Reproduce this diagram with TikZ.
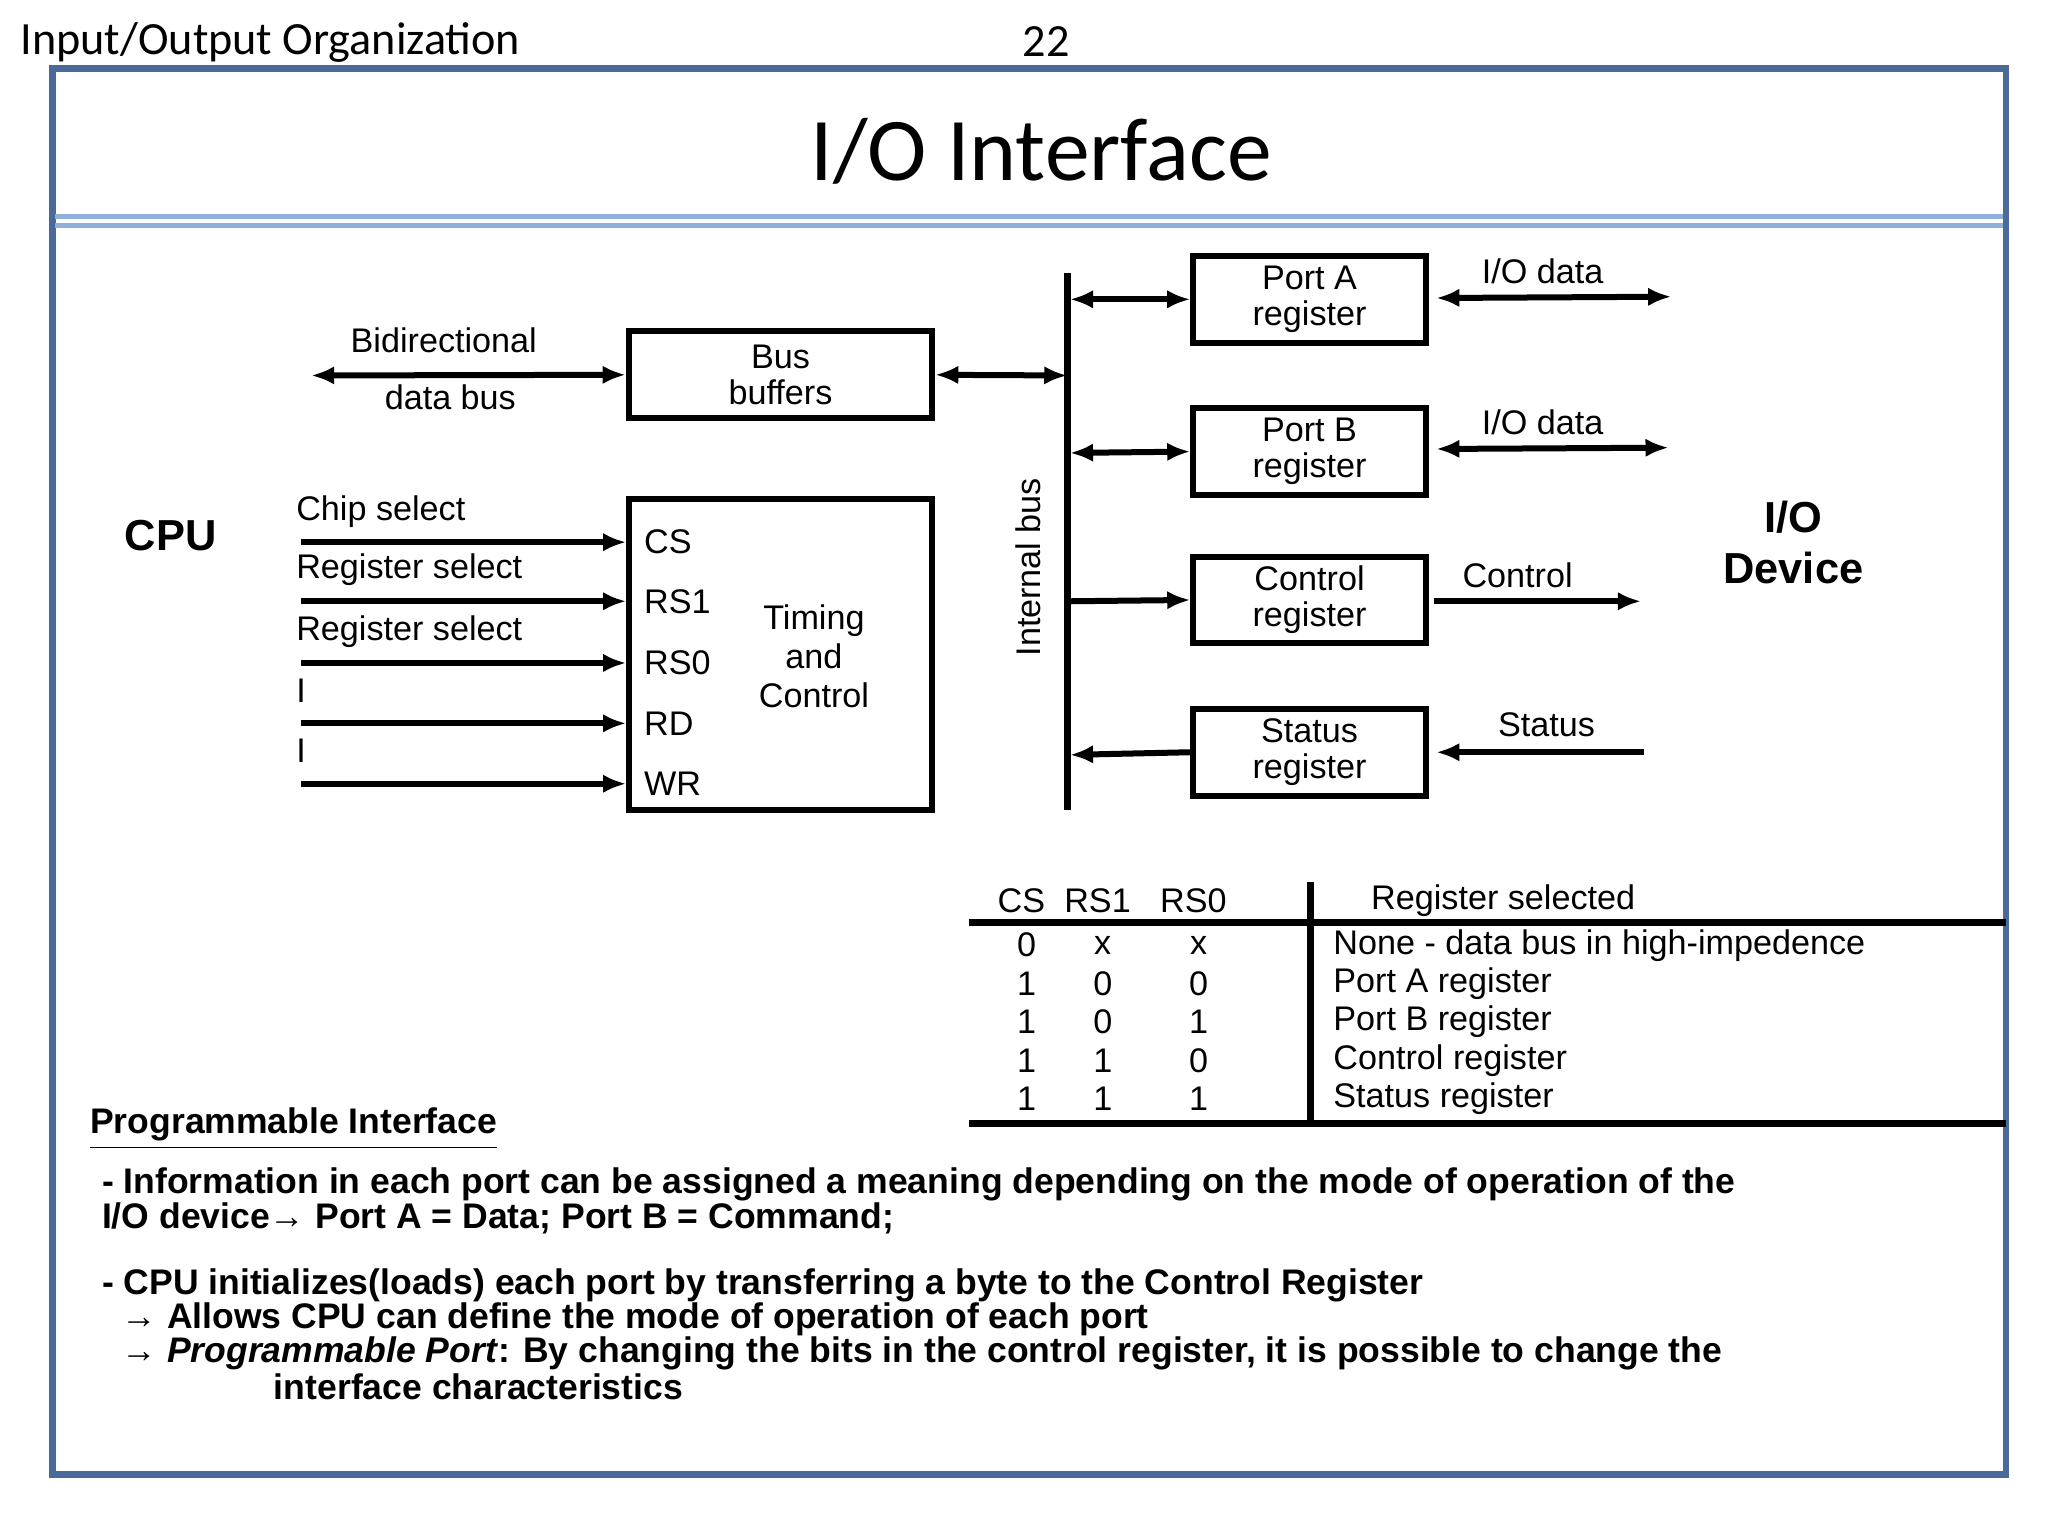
\documentclass[tikz,border=0pt]{standalone}
\usepackage{fontspec}
\setmainfont{Liberation Sans}
\newfontfamily\calfont{Carlito}
\usetikzlibrary{arrows.meta}
\definecolor{frame}{HTML}{4A6A9A}
\definecolor{lblue}{HTML}{8FB0D8}
\begin{document}
\begin{tikzpicture}[x=0.01cm,y=-0.01cm,
  lbl/.style={font=\fontsize{7.4}{8.4}\selectfont,inner sep=0},
  box/.style={draw,line width=1.3pt,minimum width=2.31cm,minimum height=0.66cm,align=center,font=\fontsize{7.4}{7.8}\selectfont,inner sep=0},
  reg/.style={draw,line width=1.3pt,minimum width=1.77cm,minimum height=0.66cm,align=center,font=\fontsize{7.4}{7.8}\selectfont,inner sep=0},
  ar/.style={line width=1.3pt,-{Latex[length=5pt,width=4pt]}},
  dar/.style={line width=1.3pt,{Latex[length=5pt,width=4pt]}-{Latex[length=5pt,width=4pt]}},
  bt/.style={font=\bfseries\fontsize{7.7}{7.3}\selectfont,inner sep=0,anchor=west}]
\useasboundingbox (0,0) rectangle (1560,1170);
\node[anchor=west,font=\calfont\fontsize{10}{12}\selectfont,inner sep=0] (hdr) at (15,32) {Input/Output Organization};
\node[font=\calfont\fontsize{10}{12}\selectfont,inner sep=0] (pg) at (797,32) {22};
\draw[frame,line width=1.5pt] (40,52) rectangle (1528,1123);
\draw[lblue,line width=1pt] (42,165) -- (1526,165);
\draw[lblue,line width=1pt] (42,172) -- (1526,172);
\node[font=\calfont\fontsize{19.4}{22}\selectfont] (title) at (793,115) {I/O Interface};
% left side
\node[box] (bb) at (594.5,285.5) {Bus\\buffers};
\node[box,minimum height=2.37cm] (tc) at (594.5,498.5) {};
\node[lbl,align=center] (tct) at (620,500) {Timing\\and\\Control};
\coordinate (bl) at (237,286);
\draw[dar] (bl) -- (bb.west);
\node[lbl] (bd1) at (338,259) {Bidirectional};
\node[lbl] (bd2) at (343,303) {data bus};
\node[font=\bfseries\fontsize{9.4}{11}\selectfont] (cpu) at (130,408) {CPU};
\node[font=\bfseries\fontsize{9.4}{11}\selectfont,align=center] (iod) at (1366,413) {I/O\\Device};
\foreach \n/\y/\s/\ly/\l in {cs/413/CS/390/Chip select,rsa/458/RS1/434/Register select,rsb/505/RS0/481/Register select,rd/551/RD/526/I/O read,wr/597/WR/572/I/O write}{
  \coordinate (s\n) at (229,\y);
  \coordinate (e\n) at (477,\y);
  \draw[ar] (s\n) -- (e\n);
  \node[lbl,anchor=west] (p\n) at (490,\y) {\s};
  \node[lbl,anchor=west] (l\n) at (225,\ly) {\l};
}
% internal bus
\coordinate (ibt) at (813,208);
\coordinate (ibb) at (813,617);
\draw[line width=1.5pt] (ibt) -- (ibb);
\node[lbl,rotate=90] (ibl) at (783,432) {Internal bus};
\coordinate (ib0) at (813,286);
\draw[dar] (bb.east) -- (ib0);
\node[reg] (pa) at (997.5,228) {Port A\\register};
\node[reg] (pb) at (997.5,344) {Port B\\register};
\node[reg] (cr) at (997.5,457) {Control\\register};
\node[reg] (sr) at (997.5,573) {Status\\register};
\coordinate (ia) at (815,228); \draw[dar] (ia) -- (pa.west);
\coordinate (ib) at (815,345); \draw[dar] (ib) -- (pb.west);
\coordinate (ic) at (815,458); \draw[ar] (ic) -- (cr.west);
\coordinate (is) at (815,575); \draw[ar] (sr.west) -- (is);
\coordinate (oa) at (1273,226); \coordinate (pae) at (1094,227); \draw[dar] (pae) -- (oa);
\coordinate (ob) at (1271,341); \coordinate (pbe) at (1094,342); \draw[dar] (pbe) -- (ob);
\coordinate (oc) at (1250,458); \coordinate (cre) at (1092,458); \draw[ar] (cre) -- (oc);
\coordinate (os) at (1252,573); \coordinate (sre) at (1094,573); \draw[ar] (os) -- (sre);
\node[lbl] (la) at (1175,207) {I/O data};
\node[lbl] (lb) at (1175,322) {I/O data};
\node[lbl] (lc) at (1156,438) {Control};
\node[lbl] (ls) at (1178,552) {Status};
% table
\coordinate (tv1) at (998,672); \coordinate (tv2) at (998,857);
\draw[line width=1.5pt] (tv1) -- (tv2);
\coordinate (th1) at (738,703); \coordinate (th2) at (1528,703);
\draw[line width=1.5pt] (th1) -- (th2);
\coordinate (tb1) at (738,856); \coordinate (tb2) at (1528,856);
\draw[line width=1.5pt] (tb1) -- (tb2);
\node[lbl] (h1) at (778,686) {CS};
\node[lbl] (h2) at (836,686) {RS1};
\node[lbl] (h3) at (909,686) {RS0};
\node[lbl] (h4) at (1145,686) {Register selected};
\foreach \i/\y/\a/\b/\c/\t in {1/720/0/x/x/None - data bus in high-impedence,2/749/1/0/0/Port A register,3/778/1/0/1/Port B register,4/808/1/1/0/Control register,5/837/1/1/1/Status register}{
  \node[lbl] (ra\i) at (782,\y) {\a};
  \node[lbl] (rb\i) at (840,\y) {\b};
  \node[lbl] (rc\i) at (913,\y) {\c};
  \node[lbl,anchor=west] (rt\i) at (1015,\y) {\t};
}
% text
\node[bt] (pi) at (68,860) {\underline{Programmable Interface}};
\node[bt] (t1) at (77,902) {- Information in each port can be assigned a meaning depending on the mode of operation of the};
\node[bt] (t2) at (77,928) {I/O device\textrightarrow{} Port A = Data; Port B = Command;};
\node[bt] (t3) at (77,979) {- CPU initializes(loads) each port by transferring a byte to the Control Register};
\node[bt] (t4) at (92,1005) {\textrightarrow{} Allows CPU can define the mode of operation of each port};
\node[bt] (t5) at (92,1031) {\textrightarrow{} \textit{Programmable Port}: By changing the bits in the control register, it is possible to change the};
\node[bt] (t6) at (208,1056) {interface characteristics};
\end{tikzpicture}
\end{document}
